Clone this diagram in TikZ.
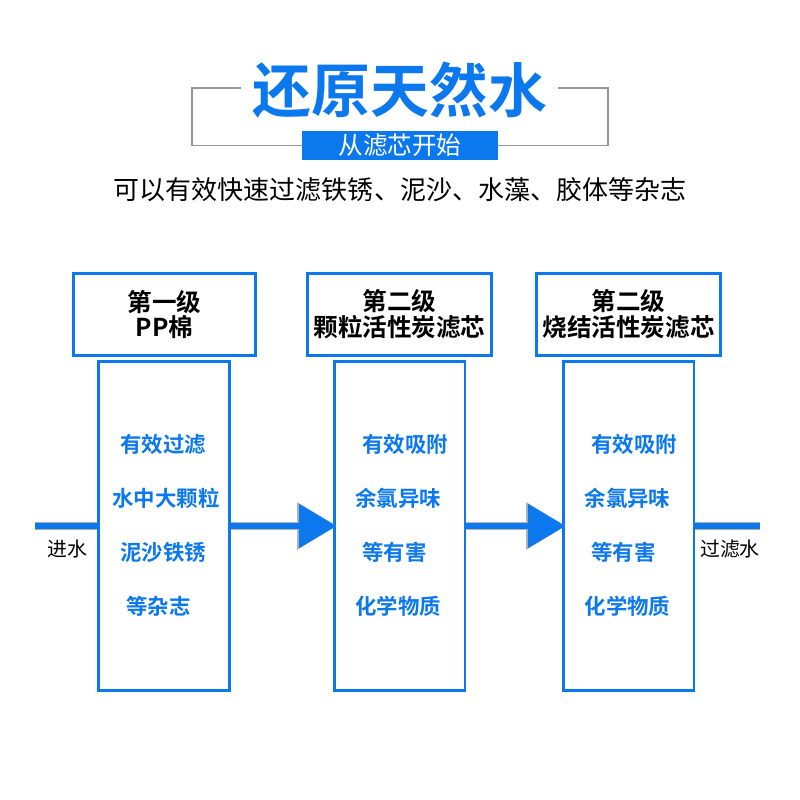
\documentclass[tikz,border=0pt]{standalone}
\usepackage{fontspec}
\setmainfont{Noto Sans CJK SC}[BoldFont={Noto Sans CJK SC Bold}]
\usetikzlibrary{arrows.meta,positioning}
\definecolor{waterblue}{RGB}{12,120,238}
\definecolor{framegray}{RGB}{150,150,150}
\newcommand{\fsz}[2]{\fontsize{#1}{#2}\selectfont}

\begin{document}
\begin{tikzpicture}[x=0.02cm, y=-0.02cm,
    frame/.style={draw=framegray, line width=0.9pt},
    headbox/.style={draw=waterblue, line width=1.7pt, minimum width=3.64cm,
      minimum height=1.64cm, align=center, font=\bfseries\fsz{14pt}{14.7pt}},
    colbox/.style={draw=waterblue, line width=1.7pt, minimum width=2.62cm,
      minimum height=6.58cm},
    item/.style={text=waterblue, font=\bfseries\fsz{12.2pt}{13pt}, inner sep=0pt},
    pipe/.style={draw=framegray!80, line width=4.6pt,
      postaction={draw=waterblue, line width=3.4pt}},
    pipeflow/.style={draw=waterblue, line width=3.6pt,
      -{Triangle[width=24.4pt,length=21.5pt]}, shorten >=-2.3pt,
      preaction={draw=framegray!70, line width=4.6pt,
        -{Triangle[width=26pt,length=22.5pt]}}},
    side/.style={font=\fsz{11.3pt}{12pt}, inner sep=0pt}
  ]
  \useasboundingbox (0,0) rectangle (800,800);

  % title block
  \node[text=waterblue, font=\bfseries\fsz{33.5pt}{33.5pt}] (title) at (400,90) {还原天然水};
  \node[fill=waterblue, text=white, minimum width=3.92cm, minimum height=0.58cm,
    inner sep=0pt, font=\fsz{14pt}{14pt}] (tag) at (400,145.5) {从滤芯开始};
  \draw[frame] (241,88) -- (192,88) -- (192,145.5) -- (tag.west);
  \draw[frame] (558,88) -- (608,88) -- (608,145.5) -- (tag.east);
  \node[font=\fsz{14.8pt}{16pt}] (intro) at (400,190) {可以有效快速过滤铁锈、泥沙、水藻、胶体等杂志};

  % filter stages
  \node[headbox] (head1) at (164.5,314.5) {第一级\\PP棉};
  \node[headbox] (head2) at (399.5,314.5) {第二级\\颗粒活性炭滤芯};
  \node[headbox] (head3) at (628.5,314.5) {第二级\\烧结活性炭滤芯};
  \node[colbox] (col1) at (164,526) {};
  \node[colbox] (col2) at (399.5,526) {};
  \node[colbox] (col3) at (628.5,526) {};

  \node[item] (a1) at (163,444) {有效过滤};
  \node[item] (a2) at (166,498) {水中大颗粒};
  \node[item] (a3) at (163,552) {泥沙铁锈};
  \node[item] (a4) at (158.5,606) {等杂志};

  \node[item] (b1) at (405,444) {有效吸附};
  \node[item] (b2) at (398,498) {余氯异味};
  \node[item] (b3) at (394.5,552) {等有害};
  \node[item] (b4) at (398,606) {化学物质};

  \node[item] (c1) at (634,444) {有效吸附};
  \node[item] (c2) at (627.5,498) {余氯异味};
  \node[item] (c3) at (623.5,552) {等有害};
  \node[item] (c4) at (627.5,606) {化学物质};

  % water path
  \coordinate (inlet) at (35,526);
  \coordinate (outlet) at (760,526);
  \draw[pipe] (inlet) -- (col1.west);
  \draw[pipeflow] (col1.east) -- (col2.west);
  \draw[pipeflow] (col2.east) -- (col3.west);
  \draw[pipe] (col3.east) -- (outlet);
  \node[side] (inlabel) at (67,549) {进水};
  \node[side] (outlabel) at (730,549) {过滤水};
\end{tikzpicture}
\end{document}
